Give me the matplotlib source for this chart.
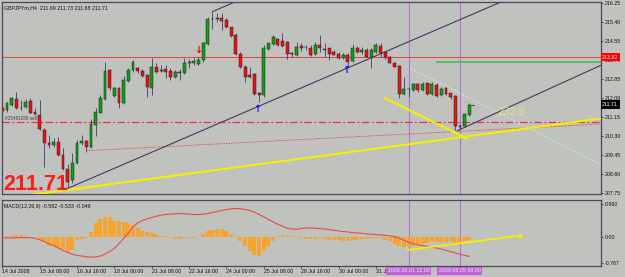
import matplotlib
matplotlib.use('Agg')
import matplotlib.pyplot as plt
import numpy as np

plt.rcParams['font.family'] = ['Liberation Sans', 'DejaVu Sans']

# ---------------- data ----------------
symbol_title = 'GBPJPYm,H4  211.69 211.73 211.68 211.71'
macd_title = 'MACD(12,26,9) -0.582 -0.533 -0.049'

opens = [211.54, 211.46, 211.69, 211.96, 211.55, 211.58, 211.88, 211.39, 211.24, 210.57,
         210.01, 209.90, 210.05, 209.46, 208.82, 208.35, 209.09, 209.98, 210.10, 209.80,
         210.79, 211.35, 211.94, 213.25, 212.09, 212.46, 211.79, 212.77, 213.25, 213.32,
         213.22, 213.02, 212.43, 213.40, 213.25, 213.28, 213.20, 212.92, 213.17, 213.13,
         213.58, 213.55, 213.52, 213.69, 214.41, 215.54, 215.55, 215.55, 215.48, 215.15,
         214.81, 213.96, 213.40, 213.03, 213.05, 212.24, 212.13, 214.17, 214.41, 214.63,
         214.56, 214.51, 213.99, 213.92, 214.32, 214.29, 214.24, 213.95, 214.36, 214.17,
         214.21, 214.07, 213.95, 213.77, 213.92, 213.65, 214.21, 214.05, 214.14, 213.84,
         214.07, 214.33, 214.04, 213.81, 213.57, 213.43, 212.16, 212.40, 212.36, 212.61,
         212.36, 212.65, 212.18, 212.58, 212.13, 212.43, 212.21, 212.09, 210.75, 210.75,
         211.24]
highs = [211.61, 211.84, 212.03, 212.28, 211.91, 211.94, 211.98, 211.54, 211.91, 210.65,
         210.35, 210.20, 210.27, 209.76, 209.05, 209.53, 210.13, 210.35, 210.13, 211.05,
         211.54, 212.13, 213.62, 213.28, 212.51, 212.51, 212.98, 213.32, 213.69, 213.40,
         213.28, 213.07, 213.77, 213.55, 213.47, 213.47, 213.32, 213.25, 213.28, 213.77,
         213.72, 213.77, 213.84, 214.51, 215.60, 215.85, 215.78, 215.78, 215.55, 215.18,
         214.88, 214.07, 213.47, 213.40, 213.10, 212.28, 214.36, 214.47, 214.81, 214.66,
         214.88, 214.56, 214.07, 214.51, 214.44, 214.36, 214.36, 214.51, 214.81, 214.47,
         214.24, 214.14, 214.07, 213.99, 213.99, 214.41, 214.32, 214.26, 214.21, 214.21,
         214.44, 214.44, 214.11, 213.87, 213.62, 213.47, 212.95, 212.50, 212.65, 212.65,
         212.73, 212.68, 212.73, 212.65, 212.50, 212.50, 212.24, 212.13, 210.82, 211.32,
         211.79]
lows = [211.32, 211.39, 211.64, 211.49, 211.46, 211.54, 211.32, 211.24, 210.57, 208.91,
        209.76, 209.80, 209.41, 208.79, 207.97, 208.20, 209.06, 209.90, 209.61, 209.76,
        210.30, 211.32, 211.91, 212.36, 212.06, 211.54, 211.73, 212.73, 213.17, 213.13,
        212.92, 212.06, 212.13, 213.10, 213.17, 212.88, 212.80, 212.88, 212.80, 213.07,
        213.32, 213.47, 213.47, 213.62, 214.36, 215.06, 215.40, 215.03, 215.11, 214.71,
        213.92, 213.32, 212.73, 212.88, 212.13, 211.80, 212.06, 214.14, 214.36, 214.32,
        214.29, 213.72, 213.84, 213.89, 214.11, 214.14, 213.89, 213.92, 214.07, 213.81,
        213.69, 213.90, 213.74, 213.72, 213.40, 213.62, 213.99, 213.96, 213.81, 213.32,
        214.02, 213.84, 213.72, 213.55, 213.37, 211.98, 212.13, 212.06, 212.33, 212.28,
        212.31, 212.13, 212.13, 212.06, 212.09, 212.13, 211.94, 210.57, 210.60, 210.69,
        211.20]
closes = [211.43, 211.76, 211.98, 211.54, 211.56, 211.84, 211.35, 211.29, 210.60, 210.01,
          209.90, 210.05, 209.46, 208.82, 208.25, 209.12, 210.01, 210.10, 209.80, 210.82,
          211.39, 211.98, 213.20, 212.43, 212.46, 211.79, 212.80, 213.25, 213.62, 213.22,
          212.98, 212.47, 213.40, 213.17, 213.22, 213.17, 212.92, 213.14, 213.13, 213.55,
          213.60, 213.65, 213.69, 214.44, 215.52, 215.52, 215.54, 215.45, 215.15, 214.76,
          213.96, 213.40, 212.95, 212.92, 212.18, 212.13, 214.21, 214.44, 214.71, 214.36,
          214.32, 213.95, 213.98, 214.26, 214.21, 214.27, 213.92, 214.36, 214.21, 214.15,
          213.96, 213.92, 213.77, 213.92, 213.62, 214.21, 214.07, 214.15, 213.84, 214.14,
          214.36, 214.02, 213.81, 213.57, 213.40, 212.18, 212.39, 212.39, 212.61, 212.36,
          212.62, 212.18, 212.61, 212.10, 212.40, 212.18, 212.03, 210.75, 210.69, 211.29,
          211.71]

macd_hist = [0.02, 0.03, 0.05, 0.06, 0.06, 0.05, 0.02, 0.00, -0.09, -0.15,
             -0.25, -0.27, -0.29, -0.35, -0.44, -0.37, -0.09, -0.05, -0.02, 0.15,
             0.43, 0.55, 0.60, 0.60, 0.48, 0.48, 0.45, 0.43, 0.38, 0.28,
             0.18, 0.15, 0.13, 0.11, 0.05, 0.03, -0.03, -0.05, -0.05, -0.03,
             -0.02, -0.01, 0.00, 0.11, 0.18, 0.23, 0.26, 0.25, 0.18, 0.11,
             0.03, -0.12, -0.25, -0.42, -0.52, -0.57, -0.42, -0.27, -0.12, 0.03,
             0.06, 0.05, 0.03, 0.01, -0.03, -0.04, -0.05, -0.05, -0.03, -0.05,
             -0.07, -0.09, -0.09, -0.10, -0.12, -0.09, -0.07, -0.05, -0.05, -0.03,
             -0.02, -0.03, -0.07, -0.12, -0.19, -0.27, -0.29, -0.27, -0.25, -0.22,
             -0.19, -0.17, -0.15, -0.15, -0.14, -0.13, -0.12, -0.17, -0.19, -0.12,
             -0.07]
macd_signal = [-0.02, -0.02, -0.02, -0.01, -0.01, -0.01, -0.01, -0.03, -0.07, -0.13,
               -0.19, -0.25, -0.32, -0.39, -0.45, -0.50, -0.54, -0.56, -0.58, -0.59,
               -0.59, -0.56, -0.50, -0.43, -0.33, -0.19, -0.03, 0.13, 0.31, 0.43,
               0.50, 0.55, 0.59, 0.63, 0.66, 0.68, 0.69, 0.70, 0.71, 0.70,
               0.69, 0.68, 0.68, 0.69, 0.71, 0.74, 0.77, 0.80, 0.83, 0.85,
               0.86, 0.85, 0.83, 0.80, 0.75, 0.68, 0.61, 0.53, 0.46, 0.39,
               0.33, 0.27, 0.25, 0.24, 0.26, 0.28, 0.28, 0.27, 0.26, 0.25,
               0.23, 0.21, 0.19, 0.17, 0.16, 0.14, 0.13, 0.12, 0.10, 0.09,
               0.08, 0.07, 0.06, 0.04, 0.02, -0.02, -0.09, -0.15, -0.19, -0.23,
               -0.25, -0.27, -0.29, -0.32, -0.35, -0.39, -0.43, -0.47, -0.51, -0.54,
               -0.57]

price_ticks = [216.25, 215.40, 214.55, 213.70, 212.85, 212.00, 211.15, 210.30, 209.45, 208.60, 207.75]
macd_ticks = [0.992, 0.00, -0.767]
macd_tick_labels = ['0.992', '0.00', '-0.767']
time_tick_bars = [0, 8, 16, 24, 32, 40, 48, 56, 64, 72, 80]
time_tick_labels = ['14 Jul 2008', '15 Jul 08:00', '16 Jul 16:00', '18 Jul 00:00', '21 Jul 08:00',
                    '22 Jul 16:00', '24 Jul 00:00', '25 Jul 08:00', '28 Jul 16:00', '30 Jul 00:00',
                    '31 Ju']

# chart objects (bar index, price)
red_level, red_level_label = 213.81, '213.82'
last_price_label = '211.71'
last_price = 211.71
sell_level = 210.93
green_level, green_start = 213.59, 93
trend_main = ([14, 107], [207.97, 216.30])
trend_top = ([45, 52], [215.85, 216.48])
trend_low = ([97.5, 128.3], [210.55, 213.47])
yellow_long = ([6, 128.3], [207.68, 211.09])
yellow_short = ([82, 99.5], [211.99, 210.19])
red_dotted = ([18, 128.3], [209.65, 210.84])
faint_dotted = ([87.3, 128.3], [213.34, 209.01])
vlines_bars = [87, 98]
vline_labels = ['2008.08.01 12:00', '2008.08.05 08:00']
macd_yellow = ([86.7, 110.9], [-0.38, 0.05])
arrows_down = [(41.9, 214.12)]
arrows_up = [(54.6, 211.53), (73.7, 213.23)]

# ---------------- figure ----------------
W, H = 625, 277
bg = '#c0c2be'
fig = plt.figure(figsize=(W / 100, H / 100), dpi=100)
fig.patch.set_facecolor(bg)


def frac(x0, y0, x1, y1):
    return [x0 / W, 1 - y1 / H, (x1 - x0) / W, (y1 - y0) / H]


ax = fig.add_axes(frac(2, 2, 601, 194))
mx = fig.add_axes(frac(2, 199.5, 601, 266), sharex=ax)
for a in (ax, mx):
    a.set_facecolor(bg)
    for s in a.spines.values():
        s.set_color('#4a4858')
        s.set_linewidth(0.9)

ax.set_xlim(-0.06, 128.2)
ax.set_ylim(207.72, 216.28)
mx.set_ylim(-0.857, 1.128)

small = 3.8
ink = '#101010'

# candles
x = np.arange(len(opens))
o = np.array(opens); h = np.array(highs); l = np.array(lows); c = np.array(closes)
up = c >= o
ax.vlines(x, l, h, color='#3a3a70', lw=0.6, zorder=3)
body_b = np.minimum(o, c)
body_h = np.maximum(np.abs(c - o), 0.02)
ax.bar(x, body_h, bottom=body_b, width=0.62,
       color=np.where(up, '#10a010', '#f01010'),
       edgecolor='#20202c', linewidth=0.35, zorder=4)
# current tick marker
ax.plot([100.45, 101.1], [last_price, last_price], color='#303040', lw=0.6, zorder=4)

# horizontal levels
ax.axhline(red_level, color='#e84040', lw=0.7, zorder=2)
ax.plot([green_start, 128.3], [green_level, green_level], color='#58c058', lw=1.4, zorder=2)
ax.axhline(sell_level, color='#e8305a', lw=0.9, dashes=(6, 2, 1.5, 2), zorder=2)
ax.plot(*red_dotted, color='#e03838', lw=0.6, ls=(0, (1.5, 1.5)), zorder=2)
ax.plot(*faint_dotted, color='#d6e6e4', lw=0.6, ls=(0, (3, 2)), zorder=2)

# trendlines
for tl in (trend_main, trend_top, trend_low):
    ax.plot(*tl, color='#3e3c5c', lw=0.8, zorder=2)
ax.plot(*yellow_long, color='#f4f000', lw=1.5, zorder=5)
ax.plot(*yellow_short, color='#f4f000', lw=1.5, zorder=5)

# vertical lines
for vb in vlines_bars:
    ax.axvline(vb, color='#b070d8', lw=0.8, zorder=1)
    mx.axvline(vb, color='#b070d8', lw=0.8, zorder=1)

# arrows
for bx, py in arrows_down:
    ax.text(bx, py, '\u2193', color='#ff0000', fontsize=7, fontweight='bold',
            ha='center', va='center', family='DejaVu Sans', zorder=6)
for bx, py in arrows_up:
    ax.text(bx, py, '\u2191', color='#1010ff', fontsize=7, fontweight='bold',
            ha='center', va='center', family='DejaVu Sans', zorder=6)

# texts
ax.text(0.004, 0.985, symbol_title, transform=ax.transAxes, fontsize=small, color=ink,
        ha='left', va='top')
ax.text(0.6, 210.96, '#25481289 sell', fontsize=3.3, color='#404040', ha='left', va='bottom')
ax.text(0.15, 207.90, last_price_label, color='#ff1a1a', fontsize=15.5, fontweight='bold',
        ha='left', va='baseline', zorder=6)
ax.text(106.1, 211.24, '232:9', color='#e6df8a', fontsize=8, ha='left', va='baseline')

# price axis
ax.yaxis.tick_right()
ax.set_yticks(price_ticks)
ax.set_yticklabels([f'{p:.2f}' for p in price_ticks])
ax.tick_params(axis='y', length=1.5, width=0.5, pad=1, labelsize=small, colors=ink)
ax.tick_params(axis='x', length=0, labelbottom=False)
ax.text(1.002, red_level, red_level_label, transform=ax.get_yaxis_transform(),
        fontsize=small, color='white', ha='left', va='center', clip_on=False, zorder=10,
        bbox=dict(boxstyle='square,pad=0.3', fc='#ff0000', ec='none'))
ax.text(1.002, last_price, last_price_label, transform=ax.get_yaxis_transform(),
        fontsize=small, color='white', ha='left', va='center', clip_on=False, zorder=10,
        bbox=dict(boxstyle='square,pad=0.3', fc='#000000', ec='none'))

# MACD panel
mx.bar(x, macd_hist, width=0.85, color='#f4a430', edgecolor='none', zorder=3)
mx.plot(x, macd_signal, color='#e84a4a', lw=0.8, zorder=4)
mx.plot(*macd_yellow, color='#f4f000', lw=1.3, zorder=5)
mx.plot([macd_yellow[0][1]], [macd_yellow[1][1]], 'o', color='#f4f000', ms=2, zorder=5)
mx.text(0.003, 0.93, macd_title, transform=mx.transAxes, fontsize=small, color=ink,
        ha='left', va='top')
mx.yaxis.tick_right()
mx.set_yticks(macd_ticks)
mx.set_yticklabels(macd_tick_labels)
mx.tick_params(axis='y', length=1.5, width=0.5, pad=1, labelsize=small, colors=ink)
mx.set_xticks(time_tick_bars)
mx.set_xticklabels(time_tick_labels)
for t in mx.get_xticklabels():
    t.set_ha('left')
mx.tick_params(axis='x', length=1.5, width=0.5, pad=1, labelsize=small, colors=ink)
for vb, lab in zip(vlines_bars, vline_labels):
    mx.text(vb, -0.075, lab, transform=mx.get_xaxis_transform(), fontsize=small,
            color='#f6e6fa', ha='center', va='center', clip_on=False, zorder=10,
            bbox=dict(boxstyle='square,pad=0.3', fc='#c062d8', ec='none'))

fig.savefig('out.png', dpi=100, facecolor=bg)
